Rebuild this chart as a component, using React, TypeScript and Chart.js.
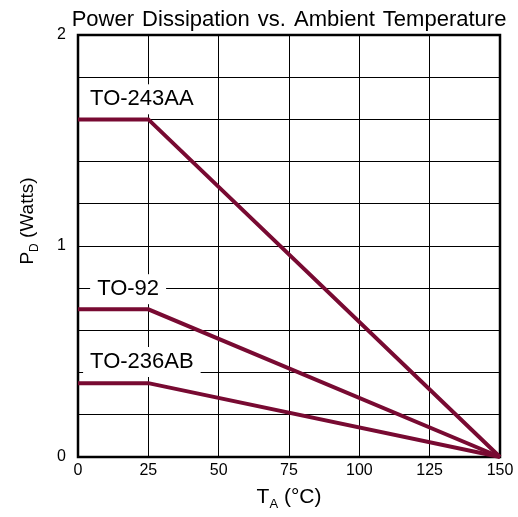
import React, { useEffect, useRef } from "react";
import { Chart, registerables } from "chart.js";

Chart.register(...registerables);

const temps = [0, 25, 150];
const to243aa = [1.6, 1.6, 0];
const to92 = [0.7, 0.7, 0];
const to236ab = [0.35, 0.35, 0];

const seriesNames = ["TO-243AA", "TO-92", "TO-236AB"];
// label anchor (left edge of text in °C, vertical centre in Watts)
const labelX = [4.3, 6.8, 4.3];
const labelY = [1.7, 0.8, 0.455];

const titleText = "Power Dissipation vs. Ambient Temperature";
const FONT = "'Liberation Sans', Arial, Helvetica, sans-serif";
const LINE_COLOR = "#780a32";

function drawSub(ctx: CanvasRenderingContext2D, main: string, sub: string, rest: string, cx: number, cy: number, size: number, subSize: number, subDrop: number) {
  ctx.textBaseline = "middle";
  ctx.textAlign = "left";
  ctx.font = `${size}px ${FONT}`;
  const w1 = ctx.measureText(main).width;
  const w3 = ctx.measureText(rest).width;
  ctx.font = `${subSize}px ${FONT}`;
  const w2 = ctx.measureText(sub).width;
  let x = cx - (w1 + w2 + w3) / 2;
  ctx.font = `${size}px ${FONT}`;
  ctx.fillText(main, x, cy);
  x += w1;
  ctx.font = `${subSize}px ${FONT}`;
  ctx.fillText(sub, x, cy + subDrop);
  x += w2;
  ctx.font = `${size}px ${FONT}`;
  ctx.fillText(rest, x, cy);
}

const decorPlugin = {
  id: "decor",
  beforeDatasetsDraw(chart: any) {
    const { ctx, chartArea, scales } = chart;
    const xs = scales.x;
    const ys = scales.y;
    ctx.save();
    // frame
    ctx.strokeStyle = "#000";
    ctx.lineWidth = 2.5;
    ctx.strokeRect(chartArea.left, chartArea.top, chartArea.right - chartArea.left, chartArea.bottom - chartArea.top);
    // series labels with white boxes
    ctx.font = `22px ${FONT}`;
    ctx.textBaseline = "middle";
    ctx.textAlign = "left";
    seriesNames.forEach((name, i) => {
      const px = xs.getPixelForValue(labelX[i]);
      const py = ys.getPixelForValue(labelY[i]);
      const w = ctx.measureText(name).width;
      ctx.fillStyle = "#fff";
      ctx.fillRect(px - 7, py - 14, w + 14, 30);
      ctx.fillStyle = "#000";
      ctx.fillText(name, px, py + 1);
    });
    ctx.restore();
  },
  afterDraw(chart: any) {
    const { ctx, chartArea } = chart;
    ctx.save();
    ctx.fillStyle = "#000";
    // title
    ctx.font = `22px ${FONT}`;
    ctx.textBaseline = "alphabetic";
    ctx.textAlign = "left";
    const words = titleText.split(" ");
    const space = ctx.measureText(" ").width + 2;
    const total = words.reduce((s, w) => s + ctx.measureText(w).width, 0) + space * (words.length - 1);
    let x = (chartArea.left + chartArea.right) / 2 - total / 2;
    words.forEach((w) => {
      ctx.fillText(w, x, 26);
      x += ctx.measureText(w).width + space;
    });
    // x axis title
    drawSub(ctx, "T", "A", " (°C)", (chartArea.left + chartArea.right) / 2, 497, 21, 13, 7);
    // y axis title
    ctx.translate(28, 221);
    ctx.rotate(-Math.PI / 2);
    drawSub(ctx, "P", "D", " (Watts)", 0, 0, 19, 12, 7);
    ctx.restore();
  },
};

export default function App() {
  const ref = useRef<HTMLCanvasElement>(null);
  useEffect(() => {
    if (!ref.current) return;
    const mk = (data: number[], i: number) => ({
      label: seriesNames[i],
      data: temps.map((t, k) => ({ x: t, y: data[k] })),
      borderColor: LINE_COLOR,
      backgroundColor: LINE_COLOR,
      borderWidth: 4,
      pointRadius: 0,
      tension: 0,
      borderJoinStyle: "miter" as const,
      borderCapStyle: "butt" as const,
      clip: 6,
    });
    const chart = new Chart(ref.current, {
      type: "line",
      data: { datasets: [mk(to243aa, 0), mk(to92, 1), mk(to236ab, 2)] },
      options: {
        responsive: false,
        animation: false,
        devicePixelRatio: 1,
        layout: { padding: { top: 35, right: 18, left: 0, bottom: 0 } },
        plugins: { legend: { display: false }, tooltip: { enabled: false }, title: { display: false } },
        scales: {
          x: {
            type: "linear",
            min: 0,
            max: 150,
            ticks: {
              stepSize: 25,
              color: "#000",
              font: { family: FONT, size: 16 },
              padding: 4,
              maxRotation: 0,
            },
            grid: { color: "#000", lineWidth: 1, drawTicks: false },
            border: { display: false },
            afterFit: (s: any) => { s.height = 60; },
          },
          y: {
            type: "linear",
            min: 0,
            max: 2,
            ticks: {
              stepSize: 0.2,
              color: "#000",
              font: { family: FONT, size: 16 },
              padding: 12,
              callback: (v: any) => (Math.abs(v - Math.round(v)) < 1e-6 ? String(Math.round(v)) : ""),
            },
            grid: { color: "#000", lineWidth: 1, drawTicks: false },
            border: { display: false },
            afterFit: (s: any) => { s.width = 78; },
          },
        },
      },
      plugins: [decorPlugin],
    });
    return () => chart.destroy();
  }, []);
  return (
    <div style={{ position: "absolute", left: 0, top: 0, width: 518, height: 517, background: "#fff" }}>
      <canvas ref={ref} width={518} height={517} style={{ width: 518, height: 517, display: "block" }} />
    </div>
  );
}
